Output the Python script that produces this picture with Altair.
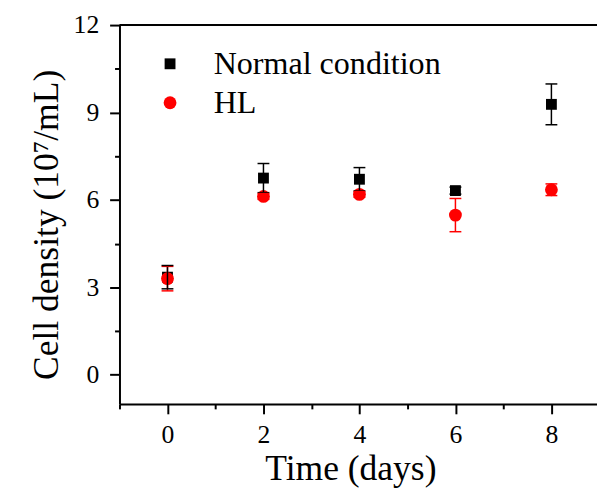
import altair as alt
import pandas as pd

days = [0, 2, 4, 6, 8]
normal_mean = [3.35, 6.75, 6.71, 6.32, 9.28]
normal_err = [0.40, 0.50, 0.40, 0.12, 0.70]
hl_mean = [3.30, 6.12, 6.19, 5.48, 6.35]
hl_err = [0.42, 0.10, 0.10, 0.57, 0.20]
series_names = ["Normal condition", "HL"]
series_colors = ["#000000", "#FF0000"]
series_shapes = ["square", "circle"]
series_sizes = [121, 169]
x_ticks = [-1, 0, 1, 2, 3, 4, 5, 6, 7, 8]
y_ticks = [0, 1.5, 3, 4.5, 6, 7.5, 9, 10.5, 12]

rows = []
for name, means, errs in [(series_names[0], normal_mean, normal_err),
                          (series_names[1], hl_mean, hl_err)]:
    for d, m, e in zip(days, means, errs):
        rows.append({"series": name, "day": d, "mean": m, "lo": m - e, "hi": m + e})
df = pd.DataFrame(rows)
df_err = df.iloc[::-1].reset_index(drop=True)

FONT = "Liberation Serif"
W, H = 484, 384

x_axis = alt.Axis(
    values=x_ticks,
    labelExpr="datum.value % 2 == 0 ? datum.label : ''",
    tickSize={"condition": {"test": "datum.value % 2 == 0", "value": 10}, "value": 5},
    tickWidth=2, tickColor="black", domainWidth=2, domainColor="black",
    labelFont=FONT, labelFontSize=26, labelColor="black", labelPadding=8,
    title="Time (days)", titleFont=FONT, titleFontSize=36, titleFontWeight="normal",
    titleColor="black", titleX=234, titleY=77, titleBaseline="alphabetic", grid=False,
)
y_axis = alt.Axis(
    values=y_ticks,
    labelExpr="datum.value % 3 == 0 ? datum.label : ''",
    tickSize={"condition": {"test": "datum.value % 3 == 0", "value": 10}, "value": 5},
    tickWidth=2, tickColor="black", domainWidth=2, domainColor="black",
    labelFont=FONT, labelFontSize=26, labelColor="black", labelPadding=11,
    title="Cell density (10\u2077/mL)", titleFont=FONT, titleFontSize=36,
    titleFontWeight="normal", titleColor="black", titleAngle=270,
    titleX=-63, titleY=202, titleAlign="center", titleBaseline="alphabetic", grid=False,
)

xs = alt.Scale(domain=[-1, 8.95], nice=False, zero=False)
ys = alt.Scale(domain=[-1, 12], nice=False, zero=False)
color = alt.Color("series:N", scale=alt.Scale(domain=series_names, range=series_colors),
                  legend=alt.Legend(title=None, orient="none", legendX=35, legendY=23,
                                    labelFont=FONT, labelFontSize=32.5, labelColor="black",
                                    labelOffset=28, labelLimit=500, rowPadding=6.5, padding=0,
                                    symbolStrokeWidth=0, symbolOpacity=1))
shape = alt.Shape("series:N", scale=alt.Scale(domain=series_names, range=series_shapes))
size = alt.Size("series:N", scale=alt.Scale(domain=series_names, range=series_sizes))

points = alt.Chart(df).mark_point(filled=True, opacity=1, strokeWidth=0).encode(
    x=alt.X("day:Q", scale=xs, axis=x_axis),
    y=alt.Y("mean:Q", scale=ys, axis=y_axis),
    color=color, shape=shape, size=size,
)
err_base = alt.Chart(df_err)
cscale = alt.Scale(domain=series_names, range=series_colors)
rules = err_base.mark_rule(strokeWidth=1.5).encode(
    x="day:Q", y="lo:Q", y2="hi:Q", color=alt.Color("series:N", scale=cscale))
cap_lo = err_base.mark_tick(thickness=1.5, size=12, opacity=1, orient="horizontal").encode(
    x="day:Q", y="lo:Q", color=alt.Color("series:N", scale=cscale))
cap_hi = err_base.mark_tick(thickness=1.5, size=12, opacity=1, orient="horizontal").encode(
    x="day:Q", y="hi:Q", color=alt.Color("series:N", scale=cscale))

top = alt.Chart(alt.Data(values=[{"a": 1}])).mark_rule(color="black", strokeWidth=2).encode(
    x=alt.value(0), x2=alt.value(W), y=alt.value(0))

chart = alt.layer(points, rules, cap_lo, cap_hi, top).properties(
    width=W, height=H,
    autosize=alt.AutoSizeParams(type="none"),
    padding={"left": 113, "top": 14, "right": 0, "bottom": 90},
).configure_view(stroke=None).configure(background="white")

chart.save("out.html", embed_options={"renderer": "svg", "actions": False})
